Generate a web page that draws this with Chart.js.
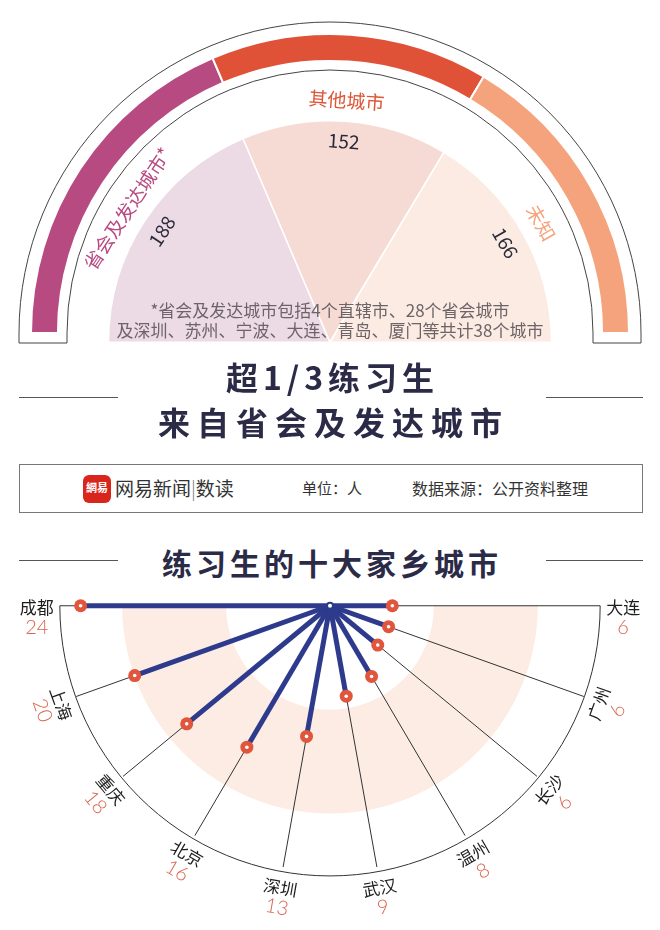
<!DOCTYPE html>
<html>
<head>
<meta charset="utf-8">
<script src="https://cdn.jsdelivr.net/npm/chart.js@4.4.1/dist/chart.umd.min.js"></script>
<style>
  body { margin: 0; background: #fff; font-family: "Noto Sans CJK SC", "Noto Sans", sans-serif; }
  #page { position: relative; width: 660px; height: 930px; overflow: hidden; background: #fff; }
  canvas { position: absolute; left: 0; }
  .title { position: absolute; left: 0; width: 660px; text-align: center; color: #2b2b47; font-weight: 700; }
  .rule { position: absolute; height: 1px; background: #555; }
  #note { position: absolute; left: 0; top: 300px; width: 660px; text-align: center; font-size: 17px; line-height: 20px; color: #6d6468; }
  #box { position: absolute; left: 19px; top: 464px; width: 624px; height: 49px; box-sizing: border-box; border: 1.5px solid #777; }
  #box span { position: absolute; top: 0; line-height: 46px; color: #333; white-space: nowrap; }
  #logo { position: absolute; left: 63px; top: 10px; width: 28px; height: 28px; border-radius: 6px; background: #d9261c; color: #fff; font-size: 11px; font-weight: 700; text-align: center; line-height: 25px; }
</style>
</head>
<body>
<div id="page">
  <canvas id="band" width="660" height="350" style="top:0"></canvas>
  <canvas id="pie" width="660" height="350" style="top:0"></canvas>
  <div id="note">*省会及发达城市包括4个直辖市、28个省会城市<br>及深圳、苏州、宁波、大连、青岛、厦门等共计38个城市</div>

  <div class="title" style="top:356px;font-size:32px;line-height:40px;letter-spacing:5px;padding-left:5px;box-sizing:border-box">超1/3练习生</div>
  <div class="title" style="top:401px;font-size:32px;line-height:40px;letter-spacing:7px;padding-left:7px;box-sizing:border-box">来自省会及发达城市</div>
  <div class="rule" style="top:397px;left:19px;width:99px"></div>
  <div class="rule" style="top:397px;left:546px;width:97px"></div>

  <div id="box">
    <div id="logo">網易</div>
    <span style="left:95px;font-size:19px">网易新闻<span style="position:static;color:#777;font-weight:300">|</span>数读</span>
    <span style="left:282px;font-size:15px">单位：人</span>
    <span style="left:392px;font-size:16px">数据来源：公开资料整理</span>
  </div>

  <div class="title" style="top:542px;font-size:30px;line-height:40px;letter-spacing:4px;padding-left:4px;box-sizing:border-box">练习生的十大家乡城市</div>
  <div class="rule" style="top:560px;left:19px;width:99px"></div>
  <div class="rule" style="top:560px;left:546px;width:97px"></div>

  <canvas id="home" width="660" height="350" style="top:580px"></canvas>
</div>

<script>
// Top: where the trainees come from
const groupLabels = ["省会及发达城市*", "其他城市", "未知"];
const groupCounts = [188, 152, 166];

// Bottom: top-10 home cities (left to right around the fan)
const cities = ["成都", "上海", "重庆", "北京", "深圳", "武汉", "温州", "长沙", "广州", "大连"];
const cityCounts = [24, 20, 18, 16, 13, 9, 8, 6, 6, 6];
const radialMax = 26;
const shadeFrom = 10;
const shadeTo = 20;

const bandColors = ["#b84a82", "#e05237", "#f5a37c"];
const pieColors = ["#ecdbe5", "#f6dbd5", "#fcebe3"];
const labelColors = ["#b84a82", "#dc5637", "#f4a37b"];
const navy = "#2e3a8c";
const dotRed = "#e0553b";
const numRed = "#d9654f";
const cjk = '"Noto Sans CJK SC", "Noto Sans", sans-serif';

// Frame around the coloured band
const bandFrame = {
  id: "bandFrame",
  afterDraw(chart) {
    const arc = chart.getDatasetMeta(0).data[0];
    const ctx = chart.ctx;
    const cx = arc.x, cy = arc.y;
    const outer = arc.outerRadius + 12;
    const inner = arc.outerRadius - 36;
    ctx.save();
    ctx.strokeStyle = "#444";
    ctx.lineWidth = 1;
    ctx.beginPath();
    ctx.moveTo(cx - outer, cy + 10);
    ctx.lineTo(cx - outer, cy);
    ctx.arc(cx, cy, outer, Math.PI, 2 * Math.PI);
    ctx.lineTo(cx + outer, cy + 10);
    ctx.lineTo(cx + inner, cy + 10);
    ctx.lineTo(cx + inner, cy);
    ctx.arc(cx, cy, inner, 0, Math.PI, true);
    ctx.lineTo(cx - inner, cy + 10);
    ctx.closePath();
    ctx.stroke();
    ctx.restore();
  },
};

new Chart(document.getElementById("band"), {
  type: "doughnut",
  data: {
    labels: groupLabels,
    datasets: [{ data: groupCounts, backgroundColor: bandColors, borderColor: "#fff", borderWidth: 2 }],
  },
  options: {
    responsive: false,
    animation: false,
    rotation: -90,
    circumference: 180,
    cutout: "91%",
    layout: { padding: { left: 30, right: 30, top: 33, bottom: 16 } },
    plugins: { legend: { display: false }, tooltip: { enabled: false } },
  },
  plugins: [bandFrame],
});

// Slice values and group names, placed along each slice's middle angle
const pieLabels = {
  id: "pieLabels",
  afterDraw(chart) {
    const ctx = chart.ctx;
    chart.getDatasetMeta(0).data.forEach((arc, i) => {
      const mid = (arc.startAngle + arc.endAngle) / 2;
      const rot = mid + Math.PI / 2;
      const put = (text, r, font, color) => {
        ctx.save();
        ctx.translate(arc.x + r * Math.cos(mid), arc.y + r * Math.sin(mid));
        ctx.rotate(rot);
        ctx.font = font;
        ctx.fillStyle = color;
        ctx.textAlign = "center";
        ctx.textBaseline = "middle";
        ctx.fillText(text, 0, 0);
        ctx.restore();
      };
      put(String(groupCounts[i]), arc.outerRadius - 20, "19px " + cjk, "#2a2a3a");
      put(groupLabels[i], arc.outerRadius + 21, "19px " + cjk, labelColors[i]);
    });
  },
};

new Chart(document.getElementById("pie"), {
  type: "pie",
  data: {
    labels: groupLabels,
    datasets: [{ data: groupCounts, backgroundColor: pieColors, borderColor: "#fff", borderWidth: 1.5 }],
  },
  options: {
    responsive: false,
    animation: false,
    rotation: -90,
    circumference: 180,
    layout: { padding: { left: 107, right: 107, top: 120, bottom: 7 } },
    plugins: { legend: { display: false }, tooltip: { enabled: false } },
  },
  plugins: [pieLabels],
});

// Bottom fan chart: scatter in value space, one spoke per city
const PX = 10.6; // pixels per person
const angleOf = (i) => Math.PI + (i * Math.PI) / (cities.length - 1);

const spokeSets = cities.map((c, i) => ({
  label: c,
  data: [
    { x: 0, y: 0 },
    { x: cityCounts[i] * Math.cos(angleOf(i)), y: cityCounts[i] * Math.sin(angleOf(i)) },
  ],
  showLine: true,
  borderColor: navy,
  borderWidth: 5,
  pointRadius: (ctx) => (ctx.dataIndex === 0 ? 0 : 6.5),
  pointBackgroundColor: dotRed,
  pointBorderWidth: 0,
}));

const dotCentres = {
  label: "centres",
  data: cities.map((c, i) => ({ x: cityCounts[i] * Math.cos(angleOf(i)), y: cityCounts[i] * Math.sin(angleOf(i)) })),
  pointRadius: 1.8,
  pointBackgroundColor: "#fff",
  pointBorderWidth: 0,
  order: -1,
};

const hub = {
  label: "hub",
  data: [{ x: 0, y: 0 }],
  pointRadius: 3,
  pointBackgroundColor: "#fff",
  pointBorderColor: navy,
  pointBorderWidth: 2,
  order: -2,
};

const fanGrid = {
  id: "fanGrid",
  beforeDatasetsDraw(chart) {
    const { ctx, scales } = chart;
    const cx = scales.x.getPixelForValue(0);
    const cy = scales.y.getPixelForValue(0);
    const r = (v) => scales.x.getPixelForValue(v) - cx;
    ctx.save();
    // shaded half ring
    ctx.fillStyle = "#fcece4";
    ctx.beginPath();
    ctx.arc(cx, cy, r(shadeTo), 0, Math.PI);
    ctx.arc(cx, cy, r(shadeFrom), Math.PI, 0, true);
    ctx.closePath();
    ctx.fill();
    // spokes
    ctx.strokeStyle = "#333";
    ctx.lineWidth = 1;
    cities.forEach((c, i) => {
      const a = angleOf(i);
      ctx.beginPath();
      ctx.moveTo(cx, cy);
      ctx.lineTo(scales.x.getPixelForValue(radialMax * Math.cos(a)), scales.y.getPixelForValue(radialMax * Math.sin(a)));
      ctx.stroke();
    });
    // outer arc
    ctx.beginPath();
    ctx.arc(cx, cy, r(radialMax), 0, Math.PI);
    ctx.stroke();
    ctx.restore();
  },
};

const fanLabels = {
  id: "fanLabels",
  afterDraw(chart) {
    const { ctx, scales } = chart;
    const cx = scales.x.getPixelForValue(0);
    const cy = scales.y.getPixelForValue(0);
    const rMax = scales.x.getPixelForValue(radialMax) - cx;
    const nameFont = "17px " + cjk;
    const numFont = "300 20px Lato, " + cjk;
    ctx.save();
    ctx.textAlign = "center";
    ctx.textBaseline = "middle";
    cities.forEach((c, i) => {
      const a = angleOf(i);
      ctx.save();
      if (i === 0 || i === cities.length - 1) {
        const side = i === 0 ? -1 : 1;
        ctx.translate(cx + side * (rMax + 23), cy + 2);
      } else {
        const phi = -a;
        const R = rMax + 16;
        ctx.translate(cx + R * Math.cos(phi), cy + R * Math.sin(phi));
        ctx.rotate(phi - Math.PI / 2);
      }
      ctx.font = nameFont;
      ctx.fillStyle = "#1e1e1e";
      ctx.fillText(c, 0, 0);
      ctx.font = numFont;
      ctx.fillStyle = numRed;
      ctx.fillText(String(cityCounts[i]), 0, 20);
      ctx.restore();
    });
    ctx.restore();
  },
};

new Chart(document.getElementById("home"), {
  type: "scatter",
  data: { datasets: [hub, dotCentres, ...spokeSets] },
  options: {
    responsive: false,
    animation: false,
    layout: { padding: 0 },
    scales: {
      x: { type: "linear", display: false, min: -330 / PX, max: 330 / PX },
      y: { type: "linear", display: false, min: -330 / PX, max: 20 / PX },
    },
    plugins: { legend: { display: false }, tooltip: { enabled: false } },
  },
  plugins: [fanGrid, fanLabels],
});
</script>
</body>
</html>
